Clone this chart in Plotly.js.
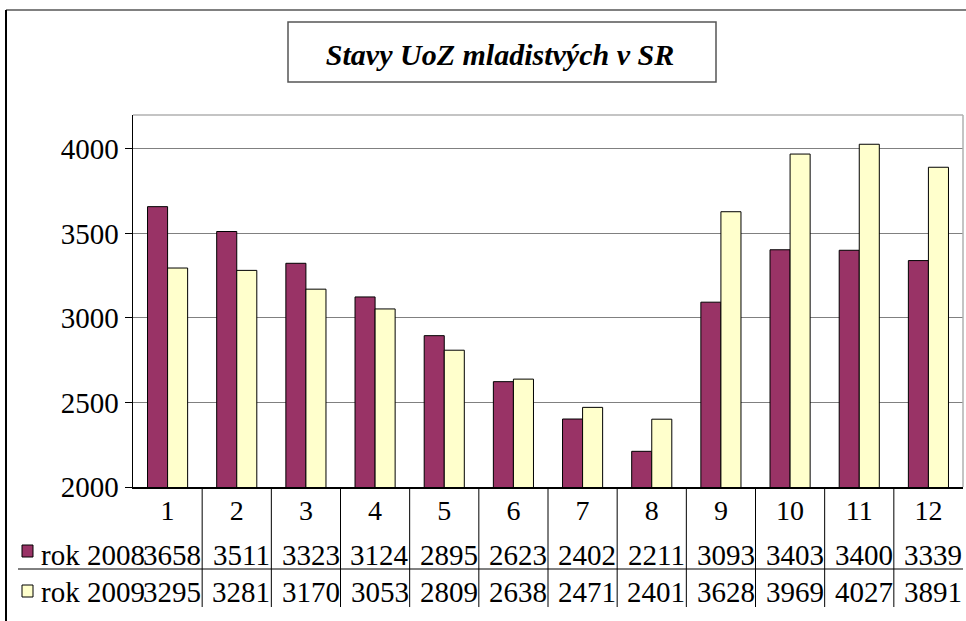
<!DOCTYPE html>
<html>
<head>
<meta charset="utf-8">
<script src="https://cdn.plot.ly/plotly-3.0.1.min.js"></script>
<style>
  body { margin: 0; background: #fff; }
  #chart { width: 966px; height: 621px; }
</style>
</head>
<body>
<div id="chart"></div>
<script>
// mesiace a stavy UoZ
const months = ['1', '2', '3', '4', '5', '6', '7', '8', '9', '10', '11', '12'];
const seriesNames = ['rok 2008', 'rok 2009'];
const rok2008 = [3658, 3511, 3323, 3124, 2895, 2623, 2402, 2211, 3093, 3403, 3400, 3339];
const rok2009 = [3295, 3281, 3170, 3053, 2809, 2638, 2471, 2401, 3628, 3969, 4027, 3891];
const yTicks = [2000, 2500, 3000, 3500, 4000];

const colors = ['#993366', '#FFFFCC'];
const serif = 'Liberation Serif';

// rozmery plochy grafu v pixeloch
const W = 966, H = 621;
const L = 133, R = 963, T = 115, B = 487;
const px = x => (x - L) / (R - L);
const py = y => (B - y) / (B - T);

const traces = [rok2008, rok2009].map((vals, i) => ({
  type: 'bar',
  x: months,
  y: vals,
  name: seriesNames[i],
  marker: { color: colors[i], line: { color: '#000', width: 1 } },
  hoverinfo: 'x+y+name'
}));

const shapes = [];
const annotations = [];

// vonkajsi ramik
shapes.push({ type: 'line', xref: 'paper', yref: 'paper', x0: px(6), x1: px(1000), y0: py(10), y1: py(10), line: { color: '#808080', width: 2 } });
shapes.push({ type: 'line', xref: 'paper', yref: 'paper', x0: px(6), x1: px(6), y0: py(10), y1: py(700), line: { color: '#000', width: 2 } });

// ramik nadpisu
shapes.push({ type: 'rect', xref: 'paper', yref: 'paper', x0: px(288), x1: px(716), y0: py(22), y1: py(82), line: { color: '#555', width: 1.5 } });

// horna a prava hrana plochy
shapes.push({ type: 'line', xref: 'paper', yref: 'paper', x0: 0, x1: 1, y0: 1, y1: 1, line: { color: '#b0b0b0', width: 1.5 } });
shapes.push({ type: 'line', xref: 'paper', yref: 'paper', x0: 1, x1: 1, y0: 0, y1: 1, line: { color: '#b0b0b0', width: 1.5 } });

// tabulka s hodnotami
for (let i = 0; i < months.length - 1; i++) {
  shapes.push({ type: 'line', xref: 'x', yref: 'paper', x0: i + 0.5, x1: i + 0.5, y0: 0, y1: py(607), line: { color: '#000', width: 1 } });
}
shapes.push({ type: 'line', xref: 'paper', yref: 'paper', x0: px(18), x1: 1, y0: py(569), y1: py(569), line: { color: '#000', width: 1 } });

const rowY = [555, 592];
const markY = [551, 591];
[rok2008, rok2009].forEach((vals, s) => {
  // znacka legendy
  shapes.push({ type: 'rect', xref: 'paper', yref: 'paper', x0: px(22), x1: px(33), y0: py(markY[s] - 6), y1: py(markY[s] + 6), fillcolor: colors[s], line: { color: '#000', width: 1 } });
  annotations.push({ xref: 'paper', yref: 'paper', x: px(39), y: py(rowY[s]), xanchor: 'left', yanchor: 'middle', text: seriesNames[s], showarrow: false, font: { family: serif, size: 29, color: '#000' } });
  vals.forEach((v, i) => {
    annotations.push({ xref: 'x', yref: 'paper', x: i + 0.5, y: py(rowY[s]), xanchor: 'right', yanchor: 'middle', text: String(v), showarrow: false, borderpad: 0, font: { family: serif, size: 29, color: '#000' } });
  });
});

const layout = {
  width: W,
  height: H,
  margin: { l: L, r: W - R, t: T, b: H - B, pad: 0 },
  font: { family: serif, size: 28, color: '#000' },
  paper_bgcolor: '#fff',
  plot_bgcolor: '#fff',
  showlegend: false,
  bargap: 0.42,
  bargroupgap: 0,
  barmode: 'group',
  title: {
    text: '<b><i>Stavy UoZ mladistvých v SR</i></b>',
    xref: 'paper',
    x: px(500),
    xanchor: 'center',
    yref: 'container',
    y: 1 - 54 / H,
    yanchor: 'middle',
    font: { family: serif, size: 30, color: '#000' }
  },
  xaxis: {
    type: 'category',
    showline: true,
    linecolor: '#000',
    linewidth: 1.5,
    ticks: '',
    showgrid: false,
    tickfont: { family: serif, size: 28, color: '#000' },
    ticklabelstandoff: -2
  },
  yaxis: {
    range: [2000, 4200],
    tickvals: yTicks,
    showline: true,
    linecolor: '#000',
    linewidth: 1.5,
    ticks: 'outside',
    ticklen: 7,
    tickcolor: '#000',
    showgrid: true,
    gridcolor: '#808080',
    gridwidth: 1,
    zeroline: false,
    tickfont: { family: serif, size: 29, color: '#000' }
  },
  shapes: shapes,
  annotations: annotations
};

Plotly.newPlot('chart', traces, layout, { displayModeBar: false, staticPlot: true });
</script>
</body>
</html>
